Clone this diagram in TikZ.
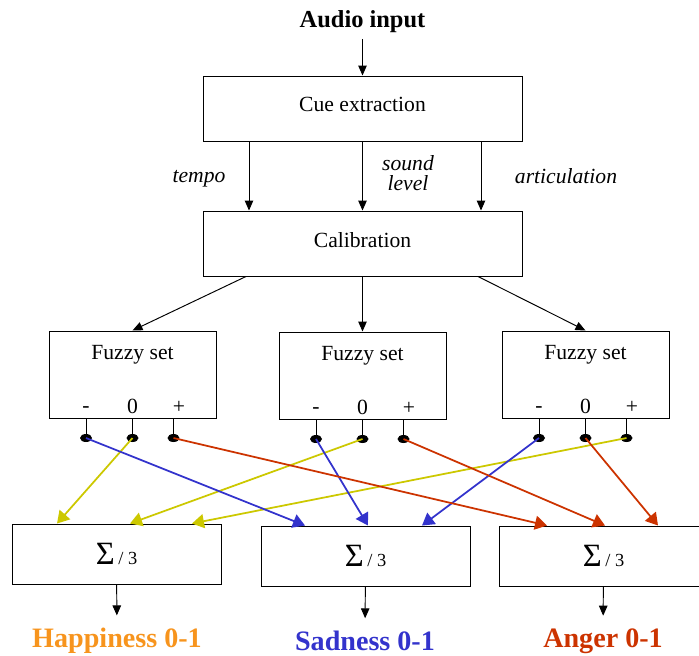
\documentclass[tikz,border=0pt]{standalone}
\usepackage{fontspec}
\setmainfont{Liberation Serif}
\usetikzlibrary{arrows.meta}
\usetikzlibrary{shapes.geometric}
\definecolor{hapcol}{RGB}{247,148,29}
\definecolor{sadcol}{RGB}{51,51,204}
\definecolor{angcol}{RGB}{204,51,0}
\definecolor{yelcol}{RGB}{204,200,0}
\def\bw{6.38cm}
\def\bh{1.3cm}
\def\sumtext{{\fontsize{18.5pt}{18pt}\selectfont Σ}\,{\fontsize{10.5pt}{12pt}\selectfont / 3}}
\tikzset{
    stage/.style = {
        draw, rectangle, minimum width=\bw, minimum height=\bh, text depth=0.16cm
    },
    sumbox/.style = {
        draw, rectangle, minimum width=4.18cm, minimum height=1.2cm
    },
    cuelabel/.style = {
        font=\fontsize{12.3pt}{11.5pt}\selectfont\itshape, align=center
    },
    outlbl/.style = {
        font=\fontsize{16pt}{18pt}\selectfont\bfseries
    },
    dot/.style = {
        ellipse, fill=black, minimum width=0.24cm, minimum height=0.16cm, inner sep=0pt
    },
    FuzzySet/.pic = {
        \node [draw, rectangle, minimum width=3.34cm, minimum height=1.74cm](-box){};
        \node (-title) at (0,0.4) {Fuzzy set};
        \node [anchor=base](-lm) at (-0.93,-0.75) {-};
        \node [anchor=base](-lz) at (0,-0.77) {0};
        \node [anchor=base](-lp) at (0.93,-0.77) {+};
        \node [dot](-m) at (-0.93,-1.27) {};
        \node [dot](-z) at (0,-1.27) {};
        \node [dot](-p) at (0.82,-1.27) {};
        \draw (-m.center) -- (-0.93,-0.87);
        \draw (-z.center) -- (0,-0.87);
        \draw (-p.center) -- (0.82,-0.87);
    },
}

\begin{document}
\begin{tikzpicture}[font=\fontsize{12.3pt}{14pt}\selectfont, line width=0.55pt, >={Triangle[width=1.7mm,length=2mm]}]
        \useasboundingbox (0,0) rectangle (13.98,-13.1);

        % Place the blocks
        \node [font=\fontsize{13.9pt}{16pt}\selectfont\bfseries](audio) at (7.25,-0.43) {Audio input};
        \node [stage](cue) at (7.25,-2.17) {Cue extraction};
        \node [stage](calib) at (7.25,-4.87) {Calibration};
        \pic (fz1) at (2.65,-7.49) {FuzzySet};
        \pic (fz2) at (7.25,-7.51) {FuzzySet};
        \pic (fz3) at (11.71,-7.49) {FuzzySet};
        \node [sumbox](sum1) at (2.33,-11.08) {\sumtext};
        \node [sumbox](sum2) at (7.31,-11.12) {\sumtext};
        \node [sumbox](sum3) at (12.07,-11.12) {\sumtext};

        % Cue names
        \node [cuelabel](tempo) at (3.98,-3.58) {tempo};
        \node [cuelabel](sound) at (8.16,-3.46) {sound\\level};
        \node [cuelabel](artic) at (11.32,-3.52) {articulation};

        % Emotion outputs
        \node [outlbl, text=hapcol](hap) at (2.34,-12.82) {Happiness 0-1};
        \node [outlbl, text=sadcol](sad) at (7.30,-12.82) {Sadness 0-1};
        \node [outlbl, text=angcol](ang) at (12.06,-12.82) {Anger 0-1};

        % Draw connections
        \draw[->] (audio) -- (cue);
        \foreach \dx in {-2.27, 0, 2.37}{
            \draw[->] ([xshift=\dx cm]cue.south) -- ([xshift=\dx cm]calib.north);
        }
        \draw[->] ([xshift=-2.33cm]calib.south) -- (fz1-box.north);
        \draw[->] (calib) -- (fz2-box);
        \draw[->] ([xshift=2.31cm]calib.south) -- (fz3-box.north);
        \draw[->, shorten >=0.13cm] (sum1) -- (hap);
        \draw[->, shorten >=0.13cm] (sum2) -- (sad);
        \draw[->, shorten >=0.13cm] (sum3) -- (ang);

        % Fuzzy outputs to the sums
        \begin{scope}[line width=1pt, >={Triangle[width=2.8mm,length=2.4mm]}]
            \draw[->, yelcol] (fz1-z.center) -- ([xshift=-1.19cm]sum1.north);
            \draw[->, yelcol] (fz2-z.center) -- ([xshift=0.27cm]sum1.north);
            \draw[->, yelcol] (fz3-p.center) -- ([xshift=1.51cm]sum1.north);
            \draw[->, sadcol] (fz1-m.center) -- ([xshift=-1.21cm]sum2.north);
            \draw[->, sadcol] (fz2-m.center) -- ([xshift=0.05cm]sum2.north);
            \draw[->, sadcol] (fz3-m.center) -- ([xshift=1.13cm]sum2.north);
            \draw[->, angcol] (fz1-p.center) -- ([xshift=-1.13cm]sum3.north);
            \draw[->, angcol] (fz2-p.center) -- ([xshift=0.03cm]sum3.north);
            \draw[->, angcol] (fz3-z.center) -- ([xshift=1.09cm]sum3.north);
        \end{scope}
\end{tikzpicture}
\end{document}
